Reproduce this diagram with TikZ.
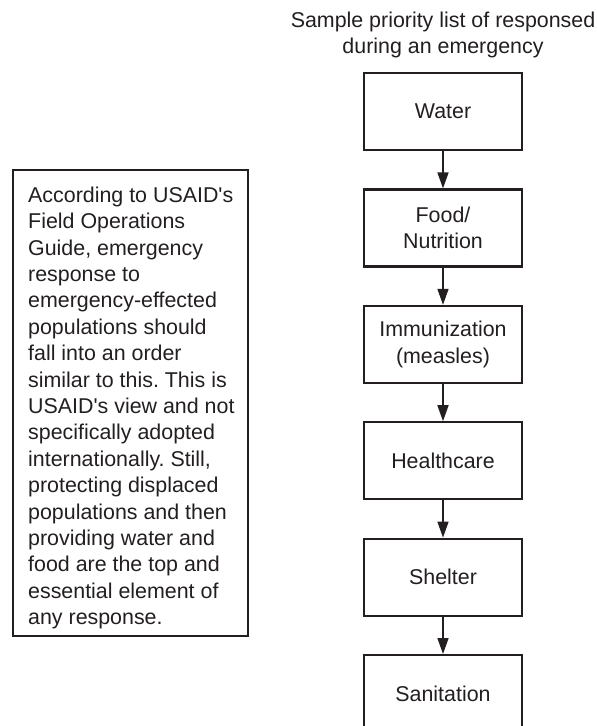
\documentclass[tikz,border=0pt]{standalone}
\usepackage{fontspec}
\setmainfont{Liberation Sans}
\usetikzlibrary{arrows.meta}
\definecolor{ink}{HTML}{231F20}
\newcommand{\apos}{\textquotesingle}
\begin{document}
\frenchspacing
\begin{tikzpicture}[x=1pt,y=-1pt,
  every node/.style={font=\fontsize{21.4}{26.4}\selectfont, text=ink},
  stepbox/.style={draw=ink, line width=2.2pt, minimum width=158pt, minimum height=77pt, inner sep=0pt, align=center},
  notebox/.style={draw=ink, line width=2.2pt, minimum width=235pt, minimum height=466pt, inner sep=0pt},
  notetext/.style={anchor=west, inner sep=0pt, align=left},
  flow/.style={draw=ink, line width=1.6pt, -{Triangle[width=11pt,length=16pt]}}]
  \clip (0,0) rectangle (597,726);
  \fill[white] (0,0) rectangle (597,726);

  % heading above the priority column
  \node[align=center] (title) at (443,35) {Sample priority list of responsed\\during an emergency};

  % priority column
  \node[stepbox] (water)  at (443,111.5) {Water};
  \node[stepbox] (food)   at (443,228.0) {Food/\\Nutrition};
  \node[stepbox] (immun)  at (443,344.4) {Immunization\\(measles)};
  \node[stepbox] (health) at (443,460.8) {Healthcare};
  \node[stepbox] (shelt)  at (443,577.2) {Shelter};
  \node[stepbox] (sanit)  at (443,693.6) {Sanitation};

  \draw[flow] (water.south)  -- (food.north);
  \draw[flow] (food.south)   -- (immun.north);
  \draw[flow] (immun.south)  -- (health.north);
  \draw[flow] (health.south) -- (shelt.north);
  \draw[flow] (shelt.south)  -- (sanit.north);

  % explanatory note: frame and its text
  \node[notebox] (note) at (130.5,403) {};
  \node[notetext] (notetext) at (28,408) {%
    According to USAID\apos s\\
    Field Operations\\
    Guide, emergency\\
    response to\\
    emergency-effected\\
    populations should\\
    fall into an order\\
    similar to this. This is\\
    USAID\apos s view and not\\
    specifically adopted\\
    internationally. Still,\\
    protecting displaced\\
    populations and then\\
    providing water and\\
    food are the top and\\
    essential element of\\
    any response.};
\end{tikzpicture}
\end{document}
